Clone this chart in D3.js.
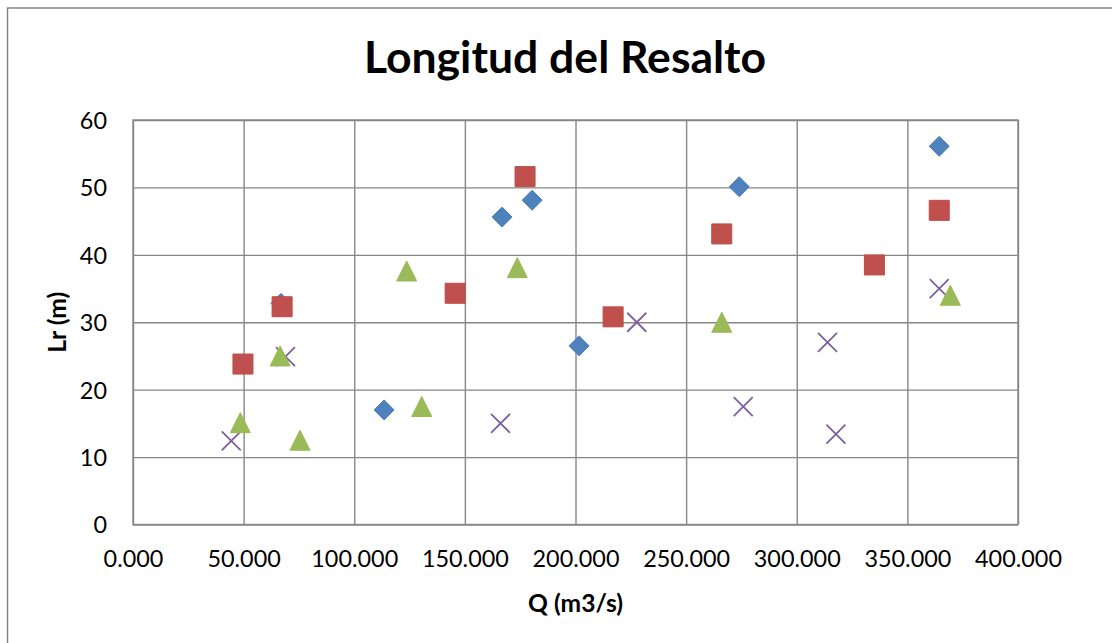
<!DOCTYPE html>
<html>
<head>
<meta charset="utf-8">
<script src="https://cdn.jsdelivr.net/npm/d3@7"></script>
<style>
  html, body { margin: 0; padding: 0; background: #ffffff; }
  svg { display: block; }
  text { font-family: Lato, "Open Sans", sans-serif; fill: #000; }
</style>
</head>
<body>
<svg id="chart" width="1112" height="643"></svg>
<script>
// Hydraulic jump length (Lr) versus discharge (Q), four measurement series
const qBlue   = [66.9, 113.5, 166.8, 180.4, 201.6, 274.0, 364.4];
const lrBlue  = [32.8, 17.0, 45.6, 48.1, 26.5, 50.1, 56.1];

const qRed    = [49.7, 67.4, 145.6, 177.2, 217.0, 266.1, 335.1, 364.4];
const lrRed   = [23.8, 32.3, 34.3, 51.6, 30.8, 43.1, 38.5, 46.6];

const qPurple  = [44.4, 68.9, 166.1, 227.7, 275.8, 313.9, 317.7, 364.4];
const lrPurple = [12.4, 24.9, 15.0, 30.0, 17.5, 27.0, 13.4, 35.0];

const qGreen  = [48.5, 66.5, 75.5, 123.7, 130.5, 173.7, 266.1, 369.4];
const lrGreen = [15.1, 25.0, 12.5, 37.6, 17.5, 38.1, 30.0, 34.0];

const xTicks = [0, 50, 100, 150, 200, 250, 300, 350, 400];
const yTicks = [0, 10, 20, 30, 40, 50, 60];

const titleText = "Longitud del Resalto";
const xTitle = "Q (m3/s)";
const yTitle = "Lr (m)";

const svg = d3.select("#chart");
const plot = { left: 133, right: 1018, top: 120, bottom: 524.5 };
const gridColor = "#878787";

const x = d3.scaleLinear().domain([0, 400]).range([plot.left, plot.right]);
const y = d3.scaleLinear().domain([0, 60]).range([plot.bottom, plot.top]);

// chart frame
svg.append("rect")
  .attr("x", 7.5).attr("y", 8)
  .attr("width", 1120).attr("height", 660)
  .attr("fill", "#fff").attr("stroke", gridColor).attr("stroke-width", 1.5);

// title
svg.append("text")
  .attr("x", 565).attr("y", 72.7)
  .attr("text-anchor", "middle")
  .style("font-size", "44.5px").style("font-weight", "bold")
  .text(titleText);

// x axis with vertical gridlines
const fmtX = d3.format(".3f");
const gx = svg.append("g")
  .attr("transform", `translate(0,${plot.bottom})`)
  .call(d3.axisBottom(x).tickValues(xTicks).tickFormat(fmtX)
    .tickSizeInner(-(plot.bottom - plot.top)).tickSizeOuter(0));
gx.select(".domain").remove();
gx.selectAll(".tick line").attr("stroke", gridColor).attr("stroke-width", 1.4);
gx.selectAll(".tick text")
  .attr("y", 42.5).attr("dy", null)
  .style("font-size", "23.4px").style("font-family", "Lato, sans-serif");

// y axis with horizontal gridlines
const gy = svg.append("g")
  .attr("transform", `translate(${plot.left},0)`)
  .call(d3.axisLeft(y).tickValues(yTicks).tickFormat(d3.format("d"))
    .tickSizeInner(-(plot.right - plot.left)).tickSizeOuter(0));
gy.select(".domain").remove();
gy.selectAll(".tick line").attr("stroke", gridColor).attr("stroke-width", 1.4);
gy.selectAll(".tick text")
  .attr("x", -26).attr("dy", "0.36em")
  .style("font-size", "23.4px").style("font-family", "Lato, sans-serif");

// plot area border
svg.append("rect")
  .attr("x", plot.left).attr("y", plot.top)
  .attr("width", plot.right - plot.left).attr("height", plot.bottom - plot.top)
  .attr("fill", "none").attr("stroke", gridColor).attr("stroke-width", 1.4);

// axis titles
svg.append("text")
  .attr("x", (plot.left + plot.right) / 2).attr("y", 612)
  .attr("text-anchor", "middle")
  .style("font-size", "24.6px").style("font-weight", "bold")
  .text(xTitle);

svg.append("text")
  .attr("transform", `translate(66,${(plot.top + plot.bottom) / 2}) rotate(-90)`)
  .attr("text-anchor", "middle")
  .style("font-size", "24.6px").style("font-weight", "bold")
  .text(yTitle);

// marker shapes, centred on the data point
const shapes = {
  diamond: "M0,-10L10,0L0,10L-10,0Z",
  square: "M-10,-10H10V10H-10Z",
  triangle: "M0,-10L10,10L-10,10Z",
  cross: "M-9.5,-9.5L9.5,9.5M9.5,-9.5L-9.5,9.5"
};

const series = [
  { q: qBlue,   lr: lrBlue,   shape: "diamond",  fill: "#4F81BD", stroke: "#4A7EBB" },
  { q: qRed,    lr: lrRed,    shape: "square",   fill: "#C0504D", stroke: "#BE4B48" },
  { q: qPurple, lr: lrPurple, shape: "cross",    fill: "none",    stroke: "#7D60A0" },
  { q: qGreen,  lr: lrGreen,  shape: "triangle", fill: "#9BBB59", stroke: "#98B954" }
];

series.forEach(s => {
  const pts = s.q.map((q, i) => ({ q, lr: s.lr[i] }));
  svg.append("g").selectAll("path")
    .data(pts)
    .join("path")
    .attr("transform", d => `translate(${x(d.q)},${y(d.lr)})`)
    .attr("d", shapes[s.shape])
    .attr("fill", s.fill)
    .attr("stroke", s.stroke)
    .attr("stroke-width", s.shape === "cross" ? 1.8 : 1);
});
</script>
</body>
</html>
